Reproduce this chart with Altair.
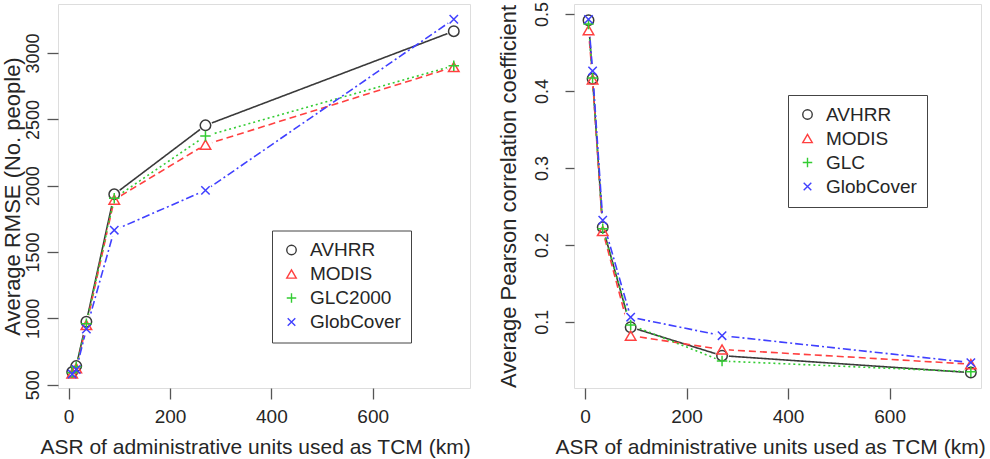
import altair as alt
import pandas as pd

# ---- data ----
x_km = [7, 15, 35, 90, 270, 760]
left_series = ["AVHRR", "MODIS", "GLC2000", "GlobCover"]
right_series = ["AVHRR", "MODIS", "GLC", "GlobCover"]

rmse_avhrr = [595, 640, 975, 1935, 2455, 3165]
rmse_modis = [585, 625, 950, 1895, 2310, 2895]
rmse_glc = [590, 635, 960, 1905, 2375, 2905]
rmse_glob = [580, 615, 920, 1665, 1965, 3255]

r_avhrr = [0.492, 0.416, 0.223, 0.093, 0.056, 0.034]
r_modis = [0.479, 0.415, 0.218, 0.082, 0.064, 0.045]
r_glc = [0.487, 0.417, 0.221, 0.096, 0.049, 0.035]
r_glob = [0.493, 0.426, 0.232, 0.106, 0.082, 0.047]

left_ticks_y = [500, 1000, 1500, 2000, 2500, 3000]
right_ticks_y = [0.1, 0.2, 0.3, 0.4, 0.5]
ticks_x = [0, 200, 400, 600]

colors = ["#3a3a3a", "#ff4040", "#33cc33", "#4040ff"]
dashes = [[1, 0], [7, 4], [2, 3], [2, 3, 8, 3]]
shapes = ["circle", "triangle-up", "M-1,0L1,0M0,-1L0,1", "M-0.8,-0.8L0.8,0.8M-0.8,0.8L0.8,-0.8"]

FONT = "Liberation Sans"
TXT = "#262626"


def long_df(series, values, field):
    rows = []
    for s, vals in zip(series, values):
        for xv, yv in zip(x_km, vals):
            rows.append({"x": xv, "y": yv, field: s})
    return pd.DataFrame(rows)


df_left = long_df(left_series, [rmse_avhrr, rmse_modis, rmse_glc, rmse_glob], "sl")
df_right = long_df(right_series, [r_avhrr, r_modis, r_glc, r_glob], "sr")


def panel(df, field, series, xdom, ydom, yvals, yfmt, ytitle, ytitle_x, ytick, ylabpad,
          xtitle_x, legx, legy, w, h):
    xenc = alt.X("x:Q", scale=alt.Scale(domain=xdom, nice=False, zero=False),
                 axis=alt.Axis(values=ticks_x, format="d", title="ASR of administrative units used as TCM (km)",
                               titleX=xtitle_x, titleY=65, titleBaseline="alphabetic", titleAlign="center",
                               titleFontSize=21, titleFontWeight="normal", titleFont=FONT, titleColor=TXT,
                               tickSize=11, labelPadding=8, labelFontSize=19, labelFont=FONT,
                               labelColor=TXT, labelFlush=False, labelOverlap=False,
                               domain=False, grid=False, tickColor="#555", tickWidth=1.3))
    yenc = alt.Y("y:Q", scale=alt.Scale(domain=ydom, nice=False, zero=False),
                 axis=alt.Axis(values=yvals, format=yfmt, title=ytitle,
                               titleX=ytitle_x, titleY=h / 2, titleAngle=270, titleBaseline="alphabetic",
                               titleAlign="center", titleFontSize=22, titleFontWeight="normal",
                               titleFont=FONT, titleColor=TXT,
                               tickSize=ytick, labelPadding=ylabpad, labelAngle=270, labelAlign="center",
                               labelBaseline="alphabetic", labelFontSize=18, labelFont=FONT,
                               labelColor=TXT, labelFlush=False, labelOverlap=False,
                               domain=False, grid=False, tickColor="#555", tickWidth=1.3))
    leg = alt.Legend(orient="none", legendX=legx, legendY=legy, title=None, padding=10,
                     strokeColor="#444", fillColor="white", labelFontSize=19, labelFont=FONT,
                     labelColor=TXT, symbolSize=90, symbolStrokeWidth=1.4, labelOffset=9,
                     rowPadding=4)
    # line scales use the reversed order so that their (hidden) legends are kept apart
    rev_series = series[::-1]
    base = alt.Chart(df)
    lines = base.mark_line(strokeWidth=1.6).encode(
        x=xenc, y=yenc,
        stroke=alt.Stroke(f"{field}:N", scale=alt.Scale(domain=rev_series, range=colors[::-1]), legend=None),
        strokeDash=alt.StrokeDash(f"{field}:N", scale=alt.Scale(domain=rev_series, range=dashes[::-1]),
                                  legend=None),
    )
    # white discs give the small gaps between lines and symbols (R's type = "b")
    gaps = base.mark_point(filled=True, color="white", opacity=1, size=190, shape="circle").encode(
        x=xenc, y=yenc
    )
    points = base.mark_point(filled=False, size=110, strokeWidth=1.5, opacity=1).encode(
        x=xenc, y=yenc,
        color=alt.Color(f"{field}:N", scale=alt.Scale(domain=series, range=colors), legend=leg),
        shape=alt.Shape(f"{field}:N", scale=alt.Scale(domain=series, range=shapes), legend=leg),
    )
    return alt.layer(lines, gaps, points).properties(width=w, height=h)


left = panel(df_left, "sl", left_series, [-21, 792], [475, 3370], left_ticks_y, "d",
             "Average RMSE (No. people)", -39, 11, 9, 197, 214, 226.5, 412, 384)
right = panel(df_right, "sr", right_series, [-21.6, 780], [0.014, 0.513], right_ticks_y, ".1f",
              "Average Pearson correlation coefficient", -59, 9, 18, 196, 214, 91, 407, 384)

chart = alt.hconcat(left, right, spacing=25).resolve_scale(
    x="independent", y="independent", color="independent", shape="independent",
    stroke="independent", strokeDash="independent"
).resolve_legend(color="independent", shape="independent").configure_view(
    stroke="#555", strokeWidth=1.5
).configure(background="white").properties(padding={"left": 0, "top": 0, "right": 0, "bottom": 0})

chart.save("out.html", embed_options={"renderer": "svg", "actions": False})
